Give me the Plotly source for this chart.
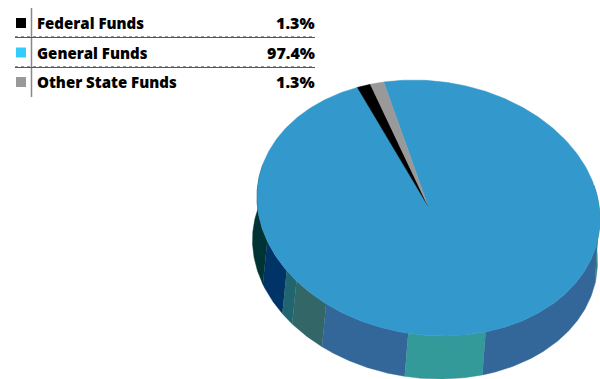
import numpy as np
import plotly.graph_objects as go

# --- data ---
categories = ["Federal Funds", "General Funds", "Other State Funds"]
shares = [1.3, 97.4, 1.3]
share_labels = ["1.3%", "97.4%", "1.3%"]
pie_colors = ["#000000", "#3399CC", "#999999"]
key_colors = ["#000000", "#33CCFF", "#999999"]

# --- pie geometry (page pixels) ---
TOP = dict(cx=428.5, cy=208, rx=171.5, ry=127.5, k=11)
BOT = dict(cx=425, cy=251, rx=172.5, ry=127.5, k=11)
START_DEG = -24.5  # clockwise from the top

# side wall colour bands: (x-fraction of right end, colour), left to right
WALL_BANDS = [
    (-0.94, "#003333"),
    (-0.827, "#003366"),
    (-0.77, "#1F6670"),
    (-0.597, "#336666"),
    (-0.118, "#336699"),
    (0.333, "#339999"),
    (0.985, "#336699"),
    (1.0, "#2F7F80"),
]


def pt(e, theta):
    """theta: radians clockwise from the top of the ellipse."""
    return (e["cx"] + e["rx"] * np.sin(theta),
            e["cy"] - e["ry"] * np.cos(theta) + e["k"] * np.sin(theta))


fig = go.Figure()


def poly(x, y, color):
    fig.add_trace(go.Scatter(x=x, y=y, mode="lines", fill="toself", fillcolor=color,
                             line=dict(width=0.5, color=color), hoverinfo="skip",
                             showlegend=False))


# side wall
prev = -1.02
for frac, col in WALL_BANDS:
    a0 = np.pi - np.arcsin(prev) if abs(prev) <= 1 else np.pi + np.radians(105)
    a1 = np.pi - np.arcsin(frac) if frac < 1 else np.pi - np.radians(105)
    th = np.linspace(a0, a1, 80)
    tx, ty = pt(TOP, th)
    bx, by = pt(BOT, th)
    poly(np.r_[tx, bx[::-1]], np.r_[ty, by[::-1]], col)
    prev = frac

# top face: slices from the values, clockwise order Federal, Other, General
order = [0, 2, 1]
ang = np.radians(START_DEG)
total = sum(shares)
spans = {i: 2 * np.pi * shares[i] / total for i in order}
starts = {}
for i in order:
    starts[i] = ang
    ang += spans[i]
for i in [1, 0, 2]:
    th = np.linspace(starts[i], starts[i] + spans[i], max(4, int(spans[i] * 80)))
    ex, ey = pt(TOP, th)
    ax, ay = TOP["cx"] - 0.5, TOP["cy"] - 2
    poly(np.r_[ax, ex, ax], np.r_[ay, ey, ay], pie_colors[i])

# key table
ROW_Y = [23, 52.5, 82]
FONT = "Open Sans"
fig.add_trace(go.Scatter(x=[21] * 3, y=ROW_Y, mode="markers", hoverinfo="skip", showlegend=False,
                         marker=dict(symbol="square", size=10, color=key_colors, line=dict(width=0))))
annos = []
for yy, name, s in zip(ROW_Y, categories, share_labels):
    annos.append(dict(x=37, y=yy, xref="x", yref="y", text=name, showarrow=False, xanchor="left",
                      xshift=-2, font=dict(family=FONT, size=15, color="#000000", weight=800)))
    annos.append(dict(x=314.5, y=yy, xref="x", yref="y", text=s, showarrow=False, xanchor="right",
                      xshift=2, font=dict(family=FONT, size=16, color="#000000", weight=800)))
shapes = [dict(type="line", x0=31.5, x1=31.5, y0=8, y1=97, line=dict(color="#888888", width=1.5))]
for yy in (37, 67):
    shapes.append(dict(type="line", x0=15, x1=315, y0=yy - 0.5, y1=yy - 0.5,
                       line=dict(color="#999999", width=1, dash="dot")))
    shapes.append(dict(type="line", x0=15, x1=315, y0=yy + 0.5, y1=yy + 0.5, line=dict(color="#555555", width=1)))

fig.update_layout(width=600, height=379, margin=dict(l=0, r=0, t=0, b=0), autosize=False,
                  paper_bgcolor="#FFFFFF", plot_bgcolor="#FFFFFF", shapes=shapes, annotations=annos,
                  xaxis=dict(range=[0, 600], visible=False, fixedrange=True),
                  yaxis=dict(range=[379, 0], visible=False, fixedrange=True))
fig.write_html("out.html", config={"displayModeBar": False},
               post_script="document.body.style.margin='0';document.documentElement.style.overflow='hidden';")
